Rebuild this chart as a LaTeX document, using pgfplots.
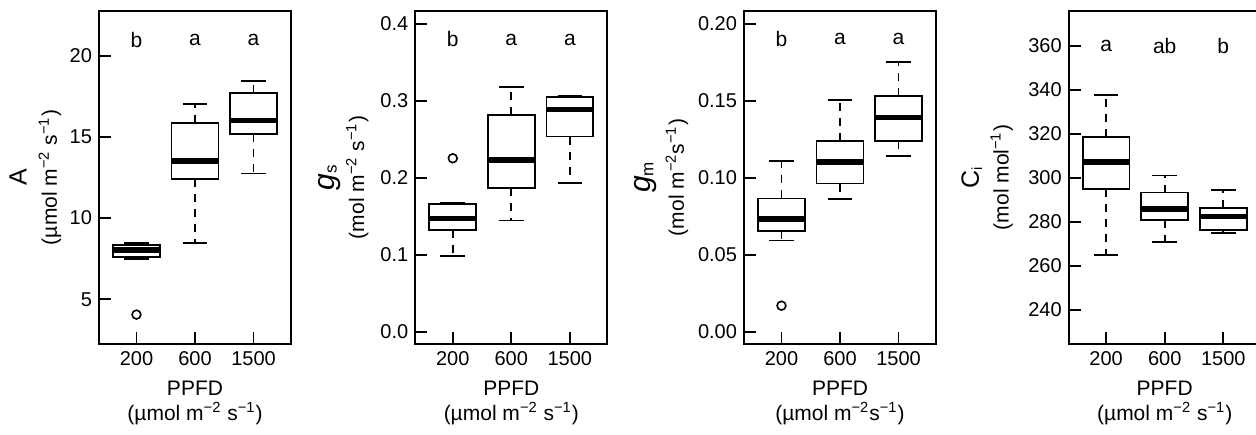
\documentclass[border=0pt]{standalone}
\usepackage{fontspec}
\setmainfont{Liberation Sans}
\usepackage{pgfplots}
\pgfplotsset{compat=1.18}
\usepgfplotslibrary{statistics}
\newcommand\labf{\fontsize{10.5}{12}\selectfont}
\newcommand\bigf{\fontsize{12.5}{14}\selectfont}
\newcommand\gsym[1]{{\fontsize{15}{15}\selectfont\itshape g}{\fontsize{8.5}{9}\selectfont\raisebox{-1.2pt}{#1}}}
\pgfplotsset{
  boxplot/draw/whisker/.code 2 args={
    \draw[/pgfplots/boxplot/every whisker/.try, dash pattern=on 4pt off 3.5pt] (boxplot cs:#1) -- (boxplot cs:#2);
    \draw[/pgfplots/boxplot/every whisker/.try, solid] (boxplot whisker cs:#2,0) -- (boxplot whisker cs:#2,1);
  },
}
\pgfplotsset{
  panel/.style={
    scale only axis, width=96pt, height=166.5pt, anchor=south west,
    xmin=0.36, xmax=3.64, xtick={1,2,3}, xticklabels={200,600,1500},
    xtick pos=bottom, ytick pos=left, tick align=inside,
    major tick length=6pt,
    axis line style={line width=0.9pt},
    tick style={line width=0.9pt, black},
    every tick label/.append style={font=\fontsize{10}{11}\selectfont},
    /pgf/number format/assume math mode=true,
    scaled y ticks=false, clip=false,
    boxplot/draw direction=y,
    boxplot/box extend=0.8, boxplot/whisker extend=0.42,
    boxplot/every median/.style={line width=2.8pt},
  },
  bx/.style={black, line width=0.9pt, solid, boxplot/draw direction=y, boxplot prepared={#1}},
  outl/.style={only marks, mark=o, black, mark size=2.2pt, line width=0.8pt},
}
\begin{document}
\begin{tikzpicture}
\useasboundingbox (0,0) rectangle (628pt,217pt);
\clip (0,0) rectangle (628pt,217pt);

% Panel A
\begin{axis}[panel, at={(49.5pt,45pt)}, ymin=2.25, ymax=22.75, ytick={5,10,15,20}]
\addplot[bx={draw position=1, lower whisker=7.5, lower quartile=7.62, median=8.05, upper quartile=8.36, upper whisker=8.46}] coordinates {};
\addplot[bx={draw position=2, lower whisker=8.46, lower quartile=12.4, median=13.52, upper quartile=15.84, upper whisker=17.03}] coordinates {};
\addplot[bx={draw position=3, lower whisker=12.75, lower quartile=15.16, median=16.0, upper quartile=17.68, upper whisker=18.46}] coordinates {};
\addplot[outl] coordinates {(1,4.06)};
\node[font=\labf] at (axis cs:1,20.96) {b};
\node[font=\labf] at (axis cs:2,20.96) {a};
\node[font=\labf] at (axis cs:3,20.96) {a};
\node[rotate=90, font=\bigf] at ([xshift=-40.5pt]rel axis cs:0,0.5) {A};
\node[rotate=90, font=\labf] at ([xshift=-24.5pt]rel axis cs:0,0.5) {(µmol m\textsuperscript{−2} s\textsuperscript{−1})};
\node[font=\labf] at ([yshift=-22pt]rel axis cs:0.5,0) {PPFD};
\node[font=\labf] at ([yshift=-35pt]rel axis cs:0.5,0) {(µmol m\textsuperscript{−2} s\textsuperscript{−1})};
\end{axis}

% Panel gs
\begin{axis}[panel, at={(207.65pt,45pt)}, ymin=-0.016, ymax=0.417, ytick={0,0.1,0.2,0.3,0.4},
  yticklabel style={/pgf/number format/.cd, fixed, fixed zerofill, precision=1}]
\addplot[bx={draw position=1, lower whisker=0.0983, lower quartile=0.1325, median=0.147, upper quartile=0.166, upper whisker=0.167}] coordinates {};
\addplot[bx={draw position=2, lower whisker=0.1446, lower quartile=0.1866, median=0.2234, upper quartile=0.2814, upper whisker=0.318}] coordinates {};
\addplot[bx={draw position=3, lower whisker=0.193, lower quartile=0.2537, median=0.289, upper quartile=0.305, upper whisker=0.307}] coordinates {};
\addplot[outl] coordinates {(1,0.2255)};
\node[font=\labf] at (axis cs:1,0.38) {b};
\node[font=\labf] at (axis cs:2,0.38) {a};
\node[font=\labf] at (axis cs:3,0.38) {a};
\node[rotate=90, font=\labf] at ([xshift=-43pt]rel axis cs:0,0.5) {\gsym{s}};
\node[rotate=90, font=\labf] at ([xshift=-29pt]rel axis cs:0,0.5) {(mol m\textsuperscript{−2} s\textsuperscript{−1})};
\node[font=\labf] at ([yshift=-22pt]rel axis cs:0.5,0) {PPFD};
\node[font=\labf] at ([yshift=-35pt]rel axis cs:0.5,0) {(µmol m\textsuperscript{−2} s\textsuperscript{−1})};
\end{axis}

% Panel gm
\begin{axis}[panel, at={(372pt,45pt)}, ymin=-0.008, ymax=0.2084, ytick={0,0.05,0.1,0.15,0.2},
  yticklabel style={/pgf/number format/.cd, fixed, fixed zerofill, precision=2}]
\addplot[bx={draw position=1, lower whisker=0.0593, lower quartile=0.0656, median=0.0734, upper quartile=0.0866, upper whisker=0.1108}] coordinates {};
\addplot[bx={draw position=2, lower whisker=0.0862, lower quartile=0.0963, median=0.1102, upper quartile=0.1238, upper whisker=0.1506}] coordinates {};
\addplot[bx={draw position=3, lower whisker=0.1143, lower quartile=0.1238, median=0.1392, upper quartile=0.1532, upper whisker=0.1753}] coordinates {};
\addplot[outl] coordinates {(1,0.0169)};
\node[font=\labf] at (axis cs:1,0.19) {b};
\node[font=\labf] at (axis cs:2,0.19) {a};
\node[font=\labf] at (axis cs:3,0.19) {a};
\node[rotate=90, font=\labf] at ([xshift=-49pt]rel axis cs:0,0.5) {\gsym{m}};
\node[rotate=90, font=\labf] at ([xshift=-33.5pt]rel axis cs:0,0.5) {(mol m\textsuperscript{−2}s\textsuperscript{−1})};
\node[font=\labf] at ([yshift=-22pt]rel axis cs:0.5,0) {PPFD};
\node[font=\labf] at ([yshift=-35pt]rel axis cs:0.5,0) {(µmol m\textsuperscript{−2}s\textsuperscript{−1})};
\end{axis}

% Panel Ci
\begin{axis}[panel, at={(534.35pt,45pt)}, ymin=224.4, ymax=375.9, ytick={240,260,280,300,320,340,360}]
\addplot[bx={draw position=1, lower whisker=264.8, lower quartile=294.8, median=307.1, upper quartile=318.5, upper whisker=337.6}] coordinates {};
\addplot[bx={draw position=2, lower whisker=270.8, lower quartile=280.8, median=285.9, upper quartile=293.3, upper whisker=301.1}] coordinates {};
\addplot[bx={draw position=3, lower whisker=274.9, lower quartile=276.2, median=282.4, upper quartile=286.3, upper whisker=294.4}] coordinates {};
\node[font=\labf] at (axis cs:1,360) {a};
\node[font=\labf] at (axis cs:2,360) {ab};
\node[font=\labf] at (axis cs:3,360) {b};
\node[rotate=90, font=\labf] at ([xshift=-48.5pt]rel axis cs:0,0.5) {{\bigf C}\textsubscript{i}};
\node[rotate=90, font=\labf] at ([xshift=-33.5pt]rel axis cs:0,0.5) {(mol mol\textsuperscript{−1})};
\node[font=\labf] at ([yshift=-22pt]rel axis cs:0.5,0) {PPFD};
\node[font=\labf] at ([yshift=-35pt]rel axis cs:0.5,0) {(µmol m\textsuperscript{−2} s\textsuperscript{−1})};
\end{axis}
\end{tikzpicture}
\end{document}
